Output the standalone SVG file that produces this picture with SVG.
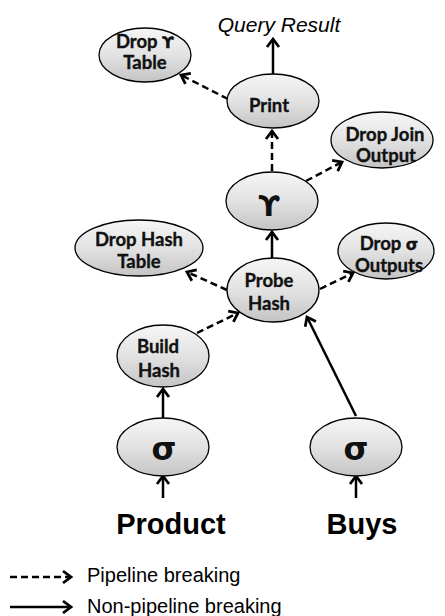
<svg xmlns="http://www.w3.org/2000/svg" width="445" height="616" viewBox="0 0 445 616">
<defs>
<linearGradient id="g" x1="0" y1="0" x2="0" y2="1">
<stop offset="0" stop-color="#f6f6f6"/>
<stop offset="0.5" stop-color="#e2e2e2"/>
<stop offset="1" stop-color="#c4c4c4"/>
</linearGradient>
<marker id="ah" markerUnits="userSpaceOnUse" markerWidth="18" markerHeight="18" refX="11" refY="8" orient="auto" viewBox="0 0 18 18">
<path d="M3,2 L11,8 L3,14" fill="none" stroke="#000" stroke-width="2.8" stroke-linejoin="miter"/>
</marker>
</defs>
<style>
.n ellipse{fill:url(#g);stroke:#000;stroke-width:1.3}
.t{font-family:Lato,"Open Sans","DejaVu Sans",sans-serif;font-weight:bold;font-size:18.5px;text-anchor:middle;fill:#111;stroke:#111;stroke-width:0.35}
.gk{font-family:"DejaVu Sans",sans-serif;font-weight:bold;text-anchor:middle;fill:#111}
.s{fill:none;stroke:#000;stroke-width:2.5;marker-end:url(#ah)}
.d{fill:none;stroke:#000;stroke-width:2.5;stroke-dasharray:7 4;marker-end:url(#ah)}
.big{font-family:"Liberation Sans",Arial,sans-serif;font-weight:bold;font-size:29px;text-anchor:middle;fill:#000}
.lg{font-family:"Liberation Sans",Arial,sans-serif;font-size:20px;fill:#000}
</style>
<g id="connectors">
<line class="s" x1="273" y1="74" x2="273" y2="39"/>
<line class="d" x1="228" y1="99" x2="181" y2="75"/>
<line class="d" x1="272" y1="171" x2="272" y2="131"/>
<line class="d" x1="306" y1="181" x2="342" y2="162"/>
<line class="s" x1="272" y1="258" x2="272" y2="232"/>
<line class="d" x1="227" y1="290" x2="187" y2="272"/>
<line class="d" x1="320" y1="289" x2="353" y2="273"/>
<line class="d" x1="197" y1="333" x2="238" y2="313"/>
<line class="s" x1="356" y1="416" x2="307" y2="317"/>
<line class="s" x1="163" y1="419" x2="163" y2="389"/>
<line class="s" x1="163" y1="498" x2="163" y2="476"/>
<line class="s" x1="356" y1="498" x2="356" y2="476"/>
</g>
<text x="279" y="32" font-family="Liberation Sans, Arial, sans-serif" font-style="italic" font-size="21" text-anchor="middle">Query Result</text>
<g id="dropGammaTable" class="n">
<ellipse cx="145" cy="55" rx="46" ry="27"/>
<text class="t" x="145" y="48">Drop <tspan font-family="DejaVu Sans, sans-serif" font-size="16">ϒ</tspan></text>
<text class="t" x="145" y="69">Table</text>
</g>
<g id="print" class="n">
<ellipse cx="273" cy="101" rx="46" ry="27"/>
<text class="t" x="269" y="112" font-size="23">Print</text>
</g>
<g id="dropJoinOutput" class="n">
<ellipse cx="382" cy="140" rx="51" ry="28"/>
<text class="t" x="385" y="141">Drop Join</text>
<text class="t" x="386" y="162">Output</text>
</g>
<g id="gamma" class="n">
<ellipse cx="272" cy="201" rx="46" ry="29"/>
<text class="gk" x="269" y="216" font-size="29">ϒ</text>
</g>
<g id="dropHashTable" class="n">
<ellipse cx="139" cy="248" rx="64" ry="28"/>
<text class="t" x="139" y="246">Drop Hash</text>
<text class="t" x="139" y="268">Table</text>
</g>
<g id="dropSigmaOutputs" class="n">
<ellipse cx="386" cy="251" rx="48" ry="28"/>
<text class="t" x="389" y="250">Drop <tspan font-family="DejaVu Sans, sans-serif" font-size="16">σ</tspan></text>
<text class="t" x="389" y="272">Outputs</text>
</g>
<g id="probeHash" class="n">
<ellipse cx="273" cy="290" rx="46" ry="32"/>
<text class="t" x="269" y="287">Probe</text>
<text class="t" x="269" y="310">Hash</text>
</g>
<g id="buildHash" class="n">
<ellipse cx="163" cy="356" rx="46" ry="31"/>
<text class="t" x="158" y="353">Build</text>
<text class="t" x="159" y="377">Hash</text>
</g>
<g id="sigmaProduct" class="n">
<ellipse cx="163" cy="447" rx="46" ry="29"/>
<text class="gk" x="164" y="460" font-size="32">σ</text>
</g>
<g id="sigmaBuys" class="n">
<ellipse cx="356" cy="447" rx="46" ry="29"/>
<text class="gk" x="356" y="460" font-size="32">σ</text>
</g>
<text class="big" x="171" y="534">Product</text>
<text class="big" x="362" y="534">Buys</text>
<g id="legend">
<line class="d" x1="10" y1="577" x2="71" y2="577"/>
<line class="s" x1="10" y1="607" x2="71" y2="607"/>
<text class="lg" x="87" y="582">Pipeline breaking</text>
<text class="lg" x="87" y="613">Non-pipeline breaking</text>
</g>
</svg>
